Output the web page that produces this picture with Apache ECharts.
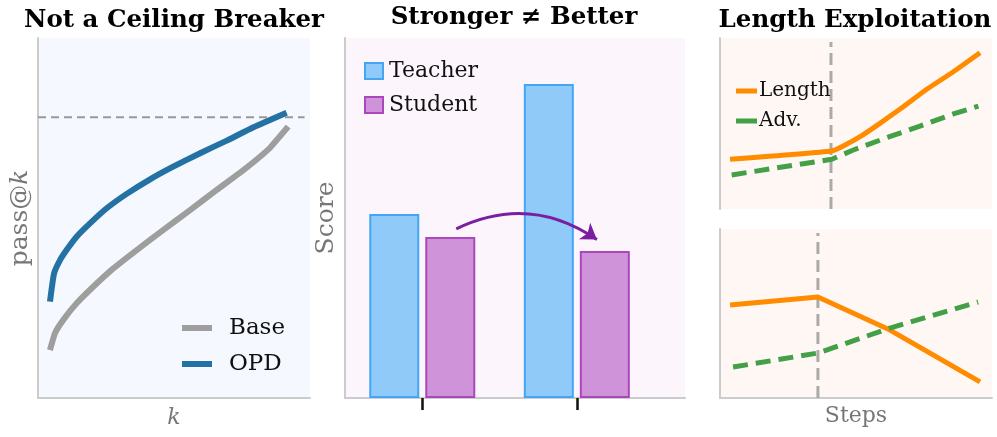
<!DOCTYPE html>
<html><head><meta charset="utf-8">
<script src="https://cdn.jsdelivr.net/npm/echarts@6/dist/echarts.min.js"></script>
<style>html,body{margin:0;padding:0;background:#fff}#c{width:997px;height:437px}</style>
</head><body><div id="c"></div>
<script>
// Panel 1: pass@k curves (x = k fraction, y = pass@k fraction)
const opdK    = [0.044, 0.059, 0.081, 0.105, 0.142, 0.191, 0.2525, 0.326, 0.412, 0.497, 0.596, 0.694, 0.792, 0.914];
const opdVal  = [0.2675, 0.346, 0.383, 0.411, 0.448, 0.485, 0.527, 0.567, 0.6075, 0.6425, 0.680, 0.715, 0.752, 0.7925];
const baseK   = [0.044, 0.0625, 0.093, 0.142, 0.203, 0.277, 0.363, 0.461, 0.559, 0.657, 0.755, 0.853, 0.920];
const baseVal = [0.133, 0.180, 0.217, 0.263, 0.309, 0.360, 0.411, 0.467, 0.522, 0.578, 0.633, 0.695, 0.754];
const ceilingK = [0, 0.98];
const ceilingVal = [0.78, 0.78];

// Panel 2: teacher / student bars
const groupPos = [0, 1];
const teacherScore = [0.511, 0.872];
const studentScore = [0.447, 0.408];
const arrowFrom = [0.22, 0.47];
const arrowTo = [1.13, 0.44];

// Panel 3 top
const topLenX = [0.037, 0.411, 0.453, 0.515, 0.588, 0.674, 0.760, 0.858, 0.956];
const topLenY = [0.291, 0.339, 0.368, 0.423, 0.501, 0.598, 0.700, 0.803, 0.914];
const topAdvX = [0.043, 0.411, 0.490, 0.613, 0.735, 0.858, 0.950];
const topAdvY = [0.199, 0.291, 0.345, 0.417, 0.485, 0.556, 0.602];
const topSwitch = 0.408;
// Panel 3 bottom
const botLenX = [0.037, 0.36, 0.625, 0.956];
const botLenY = [0.550, 0.598, 0.402, 0.095];
const botAdvX = [0.048, 0.36, 0.625, 0.949];
const botAdvY = [0.183, 0.266, 0.414, 0.568];
const botSwitch = 0.36;

const zip = (a, b) => a.map((v, i) => [v, b[i]]);
const SERIF = 'DejaVu Serif';
const axisGray = '#cccccc';
const nameGray = '#777777';

const chart = echarts.init(document.getElementById('c'), null, {renderer: 'canvas'});

function hidden(extra) {
  return Object.assign({
    type: 'value', min: 0, max: 1,
    axisLine: {show: true, onZero: false, lineStyle: {color: axisGray, width: 2}},
    axisTick: {show: false}, axisLabel: {show: false}, splitLine: {show: false}
  }, extra || {});
}
const titleStyle = {fontFamily: SERIF, fontWeight: 'bold', fontSize: 24.5, color: '#000'};

const option = {
  animation: false,
  textStyle: {fontFamily: SERIF},
  title: [
    {text: 'Not a Ceiling Breaker', left: 169, top: 3, textAlign: 'center', textStyle: titleStyle},
    {text: 'Stronger \u2260 Better', left: 509, top: 0, textAlign: 'center', textStyle: titleStyle},
    {text: 'Length Exploitation', left: 850, top: 3, textAlign: 'center', textStyle: titleStyle}
  ],
  grid: [
    {left: 38, top: 38, width: 272, height: 360, show: true, backgroundColor: '#f5f9ff', borderWidth: 0},
    {left: 345, top: 38, width: 340, height: 360, show: true, backgroundColor: '#fcf6fc', borderWidth: 0},
    {left: 720, top: 38, width: 272, height: 171, show: true, backgroundColor: '#fff7f3', borderWidth: 0},
    {left: 720, top: 229, width: 272, height: 169, show: true, backgroundColor: '#fff7f3', borderWidth: 0}
  ],
  xAxis: [
    hidden({gridIndex: 0, name: 'k', nameLocation: 'middle', nameGap: 9,
      nameTextStyle: {fontFamily: SERIF, fontStyle: 'italic', fontSize: 22, color: nameGray}}),
    hidden({gridIndex: 1, min: -0.5, max: 1.7,
      axisTick: {show: true, customValues: groupPos, length: 12, lineStyle: {color: '#111', width: 2.5}}}),
    hidden({gridIndex: 2, axisLine: {show: false}}),
    hidden({gridIndex: 3, name: 'Steps', nameLocation: 'middle', nameGap: 7,
      nameTextStyle: {fontFamily: SERIF, fontSize: 22, color: nameGray}})
  ],
  yAxis: [
    hidden({gridIndex: 0, name: '{a|pass@}{b|k}', nameLocation: 'middle', nameGap: 5,
      nameTextStyle: {rich: {
        a: {fontFamily: SERIF, fontSize: 25, color: nameGray},
        b: {fontFamily: SERIF, fontSize: 25, fontStyle: 'italic', color: nameGray}}}}),
    hidden({gridIndex: 1, name: 'Score', nameLocation: 'middle', nameGap: 6,
      nameTextStyle: {fontFamily: SERIF, fontSize: 25, color: nameGray}}),
    hidden({gridIndex: 2}),
    hidden({gridIndex: 3})
  ],
  legend: [
    {data: ['Base', 'OPD'], orient: 'vertical', left: 182, top: 315, padding: 0, icon: 'rect',
     itemWidth: 30, itemHeight: 6, itemGap: 10,
     textStyle: {fontFamily: SERIF, fontSize: 23, color: '#111', lineHeight: 26, padding: [0, 0, 0, 12]}},
    {data: [
      {name: 'Teacher', itemStyle: {color: '#90caf9', borderColor: '#42a5f5', borderWidth: 2}},
      {name: 'Student', itemStyle: {color: '#ce93d8', borderColor: '#ab47bc', borderWidth: 2}}],
     orient: 'vertical', left: 364, top: 59, padding: 0, icon: 'rect',
     itemWidth: 18, itemHeight: 16, itemGap: 10,
     textStyle: {fontFamily: SERIF, fontSize: 22, color: '#111', lineHeight: 24, padding: [0, 0, 0, 1]}},
    {data: ['Length', 'Adv.'], orient: 'vertical', left: 736, top: 80, padding: 0, icon: 'rect',
     itemWidth: 21, itemHeight: 5, itemGap: 8,
     textStyle: {fontFamily: SERIF, fontSize: 20, color: '#111', lineHeight: 22, padding: [0, 0, 0, -3]}}
  ],
  series: [
    {type: 'line', name: 'ceiling', xAxisIndex: 0, yAxisIndex: 0, data: zip(ceilingK, ceilingVal),
     symbol: 'none', lineStyle: {color: '#999999', width: 2, type: [8, 5]}, z: 1},
    {type: 'line', name: 'Base', xAxisIndex: 0, yAxisIndex: 0, data: zip(baseK, baseVal),
     symbol: 'none', smooth: 0.15, itemStyle: {color: '#9e9e9e'},
     lineStyle: {color: '#9e9e9e', width: 6, join: 'round'}},
    {type: 'line', name: 'OPD', xAxisIndex: 0, yAxisIndex: 0, data: zip(opdK, opdVal),
     symbol: 'none', smooth: 0.15, itemStyle: {color: '#2471a3'},
     lineStyle: {color: '#2471a3', width: 6, join: 'round'}},

    {type: 'bar', name: 'Teacher', xAxisIndex: 1, yAxisIndex: 1, data: zip(groupPos, teacherScore),
     barWidth: 50, barGap: '12%', itemStyle: {color: '#90caf9', borderColor: '#42a5f5', borderWidth: 2}},
    {type: 'bar', name: 'Student', xAxisIndex: 1, yAxisIndex: 1, data: zip(groupPos, studentScore),
     barWidth: 50, barGap: '12%', itemStyle: {color: '#ce93d8', borderColor: '#ab47bc', borderWidth: 2}},
    {type: 'lines', coordinateSystem: 'cartesian2d', xAxisIndex: 1, yAxisIndex: 1, z: 5,
     data: [{coords: [arrowFrom, arrowTo]}],
     symbol: ['none', 'arrow'], symbolSize: 15,
     lineStyle: {color: '#7b1fa2', width: 3, curveness: 0.29, opacity: 1}},

    {type: 'line', name: 'switchTop', xAxisIndex: 2, yAxisIndex: 2, data: [[topSwitch, 0], [topSwitch, 0.977]],
     symbol: 'none', lineStyle: {color: '#aaaaaa', width: 3, type: [12, 6]}, z: 1},
    {type: 'line', name: 'Length', xAxisIndex: 2, yAxisIndex: 2, data: zip(topLenX, topLenY),
     symbol: 'none', smooth: 0.15, itemStyle: {color: '#ff8c00'},
     lineStyle: {color: '#ff8c00', width: 5, join: 'round'}},
    {type: 'line', name: 'Adv.', xAxisIndex: 2, yAxisIndex: 2, data: zip(topAdvX, topAdvY),
     symbol: 'none', itemStyle: {color: '#43a047'}, lineStyle: {color: '#43a047', width: 5, type: [15, 8]}},

    {type: 'line', name: 'switchBot', xAxisIndex: 3, yAxisIndex: 3, data: [[botSwitch, 0], [botSwitch, 0.976]],
     symbol: 'none', lineStyle: {color: '#aaaaaa', width: 3, type: [12, 6]}, z: 1},
    {type: 'line', name: 'Length', xAxisIndex: 3, yAxisIndex: 3, data: zip(botLenX, botLenY),
     symbol: 'none', itemStyle: {color: '#ff8c00'}, lineStyle: {color: '#ff8c00', width: 5, join: 'round'}},
    {type: 'line', name: 'Adv.', xAxisIndex: 3, yAxisIndex: 3, data: zip(botAdvX, botAdvY),
     symbol: 'none', itemStyle: {color: '#43a047'}, lineStyle: {color: '#43a047', width: 5, type: [15, 8]}}
  ]
};
chart.setOption(option);
</script></body></html>
